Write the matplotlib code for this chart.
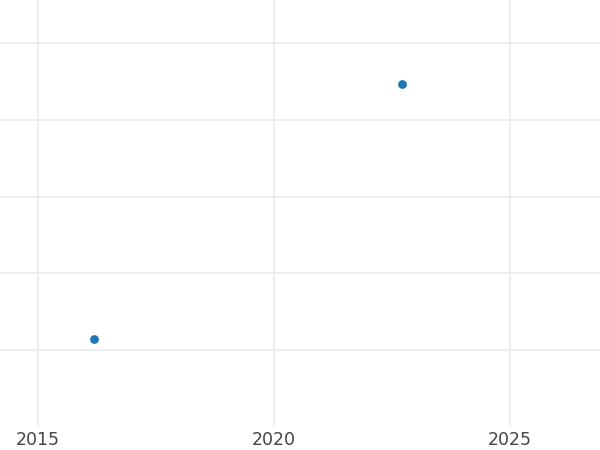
import matplotlib
matplotlib.use("Agg")
import matplotlib.pyplot as plt

years = [2016.19, 2022.71]
values = [1.14, 4.46]
xticks = [2015, 2020, 2025]
yticks = [1, 2, 3, 4, 5]

fig = plt.figure(figsize=(6, 4.5), dpi=100)
ax = fig.add_axes([0, 0.051, 1, 0.949])
ax.scatter(years, values, s=40, color="#1f77b4", zorder=3, linewidths=0)
ax.set_xlim(2014.195, 2026.907)
ax.set_ylim(0, 5.56)
ax.set_xticks(xticks)
ax.set_xticklabels([str(t) for t in xticks])
ax.set_yticks(yticks)
ax.set_yticklabels([])
ax.grid(True, color="#ebebeb", linewidth=1.2)
ax.set_axisbelow(True)
for s in ax.spines.values():
    s.set_visible(False)
ax.tick_params(axis="both", length=0, labelsize=12.5, labelcolor="#444444", pad=3)
fig.savefig("out.png", dpi=100)
